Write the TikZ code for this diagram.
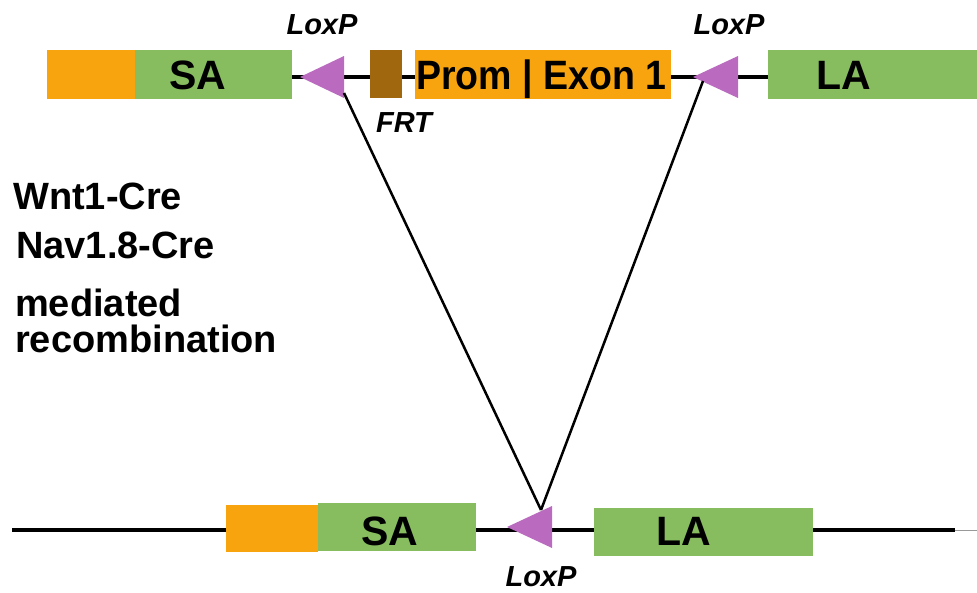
\documentclass[tikz,border=0pt]{standalone}
\usepackage{fontspec}
\setmainfont{Liberation Sans}
\newfontfamily\narrowsans[FakeStretch=0.915]{Liberation Sans}
\begin{document}
\begin{tikzpicture}[x=1pt,y=-1pt,
  exonorange/.style={fill=orangeC,draw=none},
  homology/.style={fill=greenC,draw=none},
  boxnode/.style={rectangle,inner sep=0pt,outer sep=0pt,anchor=north west},
  loxpfill/.style={fill=purpleC,draw=none},
  backbone/.style={line width=3.2pt,black},
  recomb/.style={line width=2.5pt,black},
  boxlabel/.style={inner sep=0pt,anchor=base,font=\fontsize{41}{41}\selectfont\bfseries},
  sitelabel/.style={inner sep=0pt,anchor=base,font=\fontsize{29}{29}\selectfont\bfseries\itshape},
  sidetext/.style={inner sep=0pt,anchor=base west,font=\fontsize{38}{38}\selectfont\bfseries}]
\definecolor{orangeC}{HTML}{F8A40E}
\definecolor{greenC}{HTML}{87BC5F}
\definecolor{purpleC}{HTML}{BA6BBF}
\definecolor{brownC}{HTML}{A0670F}
\useasboundingbox (0,0) rectangle (977,593);

% ---- floxed allele (top) ----
\coordinate (topL) at (292,77);
\coordinate (topR) at (768,77);
\draw[backbone] (topL) -- (topR);

\node[boxnode,exonorange,minimum width=88pt,minimum height=49pt] (o1) at (47,50) {};
\node[boxnode,homology,minimum width=157pt,minimum height=49pt] (sa1) at (135,50) {};
\node[boxlabel] (sa1t) at (198,90) {SA};

\node[boxnode,fill=brownC,minimum width=32pt,minimum height=48pt] (frt) at (370,50) {};
\node[boxnode,exonorange,minimum width=256pt,minimum height=49pt] (prom) at (415,50) {};
\node[inner sep=0pt,anchor=base west,font=\fontsize{41}{41}\narrowsans\bfseries] (promt) at (416,90) {Prom | Exon 1};

\node[boxnode,homology,minimum width=209pt,minimum height=49pt] (la1) at (768,50) {};
\node[boxlabel] (la1t) at (844,90) {LA};

% LoxP sites (pointing left)
\fill[loxpfill] (344,56) -- (300,77) -- (344,98) -- cycle;
\coordinate (loxA) at (344,93);
\fill[loxpfill] (738,56) -- (693,77) -- (738,98) -- cycle;
\coordinate (loxB) at (703,81);

\node[sitelabel] (loxAt) at (322,35) {LoxP};
\node[sitelabel] (loxBt) at (729,35) {LoxP};
\node[sitelabel] (frtt) at (404,133) {FRT};

% ---- side text ----
\node[sidetext] (t1) at (13,210) {Wnt1-Cre};
\node[sidetext] (t2) at (16,259) {Nav1.8-Cre};
\node[sidetext] (t3) at (15,317) {mediated};
\node[sidetext] (t4) at (15,353) {recombination};

% ---- recombined allele (bottom) ----
\coordinate (botL) at (12,530);
\coordinate (botR) at (955,530);
\coordinate (botE) at (977,530);
\draw[backbone] (botL) -- (botR);
\draw[line width=1pt,black!40] (botR) -- (botE);

\node[boxnode,exonorange,minimum width=92pt,minimum height=47pt] (o2) at (226,505) {};
\node[boxnode,homology,minimum width=158pt,minimum height=48pt] (sa2) at (318,503) {};
\node[boxlabel] (sa2t) at (390,545) {SA};
\node[boxnode,homology,minimum width=219pt,minimum height=48pt] (la2) at (594,508) {};
\node[boxlabel] (la2t) at (684,545) {LA};

\fill[loxpfill] (552,506) -- (507,527) -- (552,548) -- cycle;
\coordinate (loxC) at (541,510);
\node[sitelabel] (loxCt) at (541,586) {LoxP};

% recombination lines
\draw[recomb] (loxA) -- (loxC);
\draw[recomb] (loxB) -- (loxC);
\end{tikzpicture}
\end{document}
